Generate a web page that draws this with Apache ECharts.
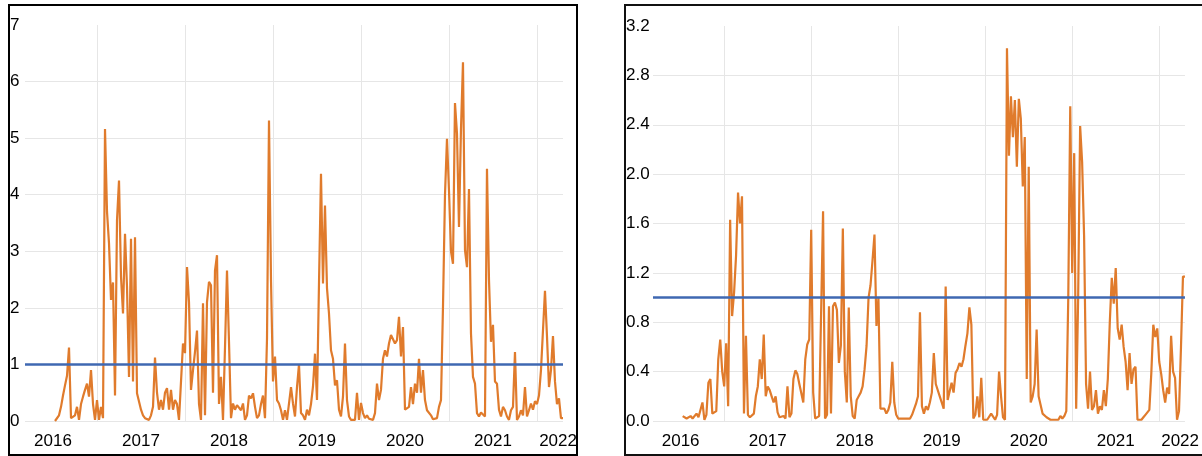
<!DOCTYPE html>
<html><head><meta charset="utf-8">
<script src="https://cdn.jsdelivr.net/npm/echarts@6/dist/echarts.min.js"></script>
<style>html,body{margin:0;padding:0;background:#fff;}#c{width:1202px;height:456px;}</style>
</head><body><div id="c"></div>
<script>
// Left panel series (sampled every 1/44 year)
const leftValues = [
0.0,0.03,0.1,0.25,0.45,0.63,0.8,1.3,0.05,0.02,
0.1,0.25,0.02,0.3,0.43,0.55,0.66,0.43,0.9,0.3,
0.02,0.37,0.02,0.25,0.05,5.16,3.7,3.14,2.14,2.45,
0.45,3.55,4.25,2.55,1.9,3.31,2.37,0.78,3.22,0.7,
3.25,0.49,0.49,0.2,0.1,0.05,0.02,0.02,0.1,0.25,
1.12,0.5,0.2,0.37,0.2,0.5,0.58,0.2,0.55,0.2,
0.37,0.3,0.02,0.05,1.37,1.2,2.72,2.1,0.55,0.9,
1.22,1.6,0.3,0.02,2.08,0.1,2.1,2.46,2.4,0.5,
2.66,2.93,0.3,0.78,0.02,1.3,2.66,1.4,0.05,0.31,
0.2,0.28,0.3,0.19,0.31,0.02,0.1,0.45,0.4,0.49,
0.25,0.05,0.1,0.3,0.45,0.05,1.45,5.31,2.5,0.7,
1.14,0.37,0.31,0.19,0.02,0.19,0.02,0.02,0.6,0.31,
0.08,0.6,1.0,0.14,0.1,0.02,0.2,0.1,0.3,0.61,
1.19,0.37,2.43,4.37,2.43,3.81,2.35,1.9,1.25,1.1,
0.63,0.72,0.2,0.08,0.43,1.37,0.37,0.08,0.02,0.05,
0.02,0.5,0.02,0.32,0.14,0.05,0.1,0.04,0.03,0.02,
0.14,0.66,0.37,0.55,1.1,1.25,1.14,1.37,1.52,1.49,
1.37,1.43,1.84,1.14,1.66,0.2,0.19,0.25,0.6,0.3,
0.66,0.5,1.1,0.5,0.9,0.37,0.19,0.2,0.1,0.03,
0.02,0.05,0.25,0.37,2.02,4.0,4.99,4.08,3.0,2.78,
5.62,5.08,3.43,5.16,6.34,3.02,2.72,4.1,1.55,0.78,
0.66,0.14,0.08,0.15,0.14,0.08,4.46,2.5,1.4,1.7,
0.7,0.66,0.2,0.08,0.25,0.19,0.08,0.02,0.19,0.25,
1.22,0.02,0.08,0.19,0.1,0.6,0.08,0.19,0.31,0.2,
0.35,0.3,0.45,0.9,1.6,2.3,1.5,0.6,0.9,1.5,
0.7,0.3,0.4,0.05,0.05
];
// Right panel series
const rightValues = [
0.04,0.05,0.02,0.03,0.04,0.02,0.02,0.06,0.03,0.02,
0.15,0.01,0.05,0.31,0.34,0.06,0.05,0.08,0.5,0.66,
0.4,0.28,0.63,0.12,1.63,0.85,1.04,1.34,1.85,1.6,
1.82,0.06,0.69,0.05,0.03,0.02,0.06,0.2,0.28,0.5,
0.34,0.7,0.2,0.28,0.25,0.2,0.15,0.2,0.07,0.03,
0.02,0.04,0.02,0.28,0.03,0.06,0.34,0.41,0.38,0.3,
0.3,0.15,0.5,0.62,0.66,1.55,0.23,0.02,0.02,0.04,
0.04,1.7,0.02,0.05,0.93,0.06,0.93,0.96,0.9,0.47,
0.61,1.56,0.4,0.15,0.92,0.2,0.04,0.02,0.17,0.2,
0.23,0.28,0.42,0.61,1.0,1.1,1.3,1.51,0.77,1.0,
0.1,0.09,0.1,0.06,0.09,0.15,0.48,0.15,0.05,0.02,
0.02,0.02,0.03,0.02,0.03,0.02,0.05,0.04,0.14,0.2,
0.88,0.12,0.06,0.12,0.09,0.15,0.23,0.55,0.3,0.3,
0.2,0.15,0.1,1.09,0.17,0.17,0.31,0.23,0.39,0.42,
0.47,0.44,0.5,0.61,0.71,0.92,0.78,0.02,0.05,0.2,
0.03,0.35,0.01,0.02,0.01,0.02,0.06,0.07,0.01,0.05,
0.4,0.2,0.03,0.01,3.02,2.15,2.63,2.3,2.6,2.06,
2.61,2.45,1.9,2.3,0.34,2.06,0.15,0.2,0.3,0.74,
0.2,0.2,0.06,0.05,0.03,0.02,0.01,0.02,0.01,0.02,
0.01,0.04,0.02,0.04,0.08,1.0,2.55,1.2,2.17,0.1,
1.0,2.39,2.1,1.5,0.3,0.1,0.4,0.09,0.12,0.25,
0.06,0.12,0.09,0.25,0.12,0.34,0.8,1.16,0.95,1.24,
0.75,0.66,0.78,0.6,0.48,0.25,0.55,0.3,0.42,0.44,
0.01,0.02,0.01,0.03,0.05,0.07,0.09,0.39,0.78,0.68,
0.75,0.48,0.38,0.25,0.15,0.27,0.22,0.69,0.4,0.35,
0.01,0.08,0.6,1.17,1.17
];
const firstSample = 2016.523;   // decimal year of first observation
const samplesPerYear = 44;
const xTickLabels = ['2016','2017','2018','2019','2020','2021','2022'];
const yearGridlines = [2017, 2018, 2019, 2020, 2021, 2022];
const threshold = 1;
const leftYMax = 7, leftYStep = 1;
const rightYMax = 3.2, rightYStep = 0.4;

const xMin = 2016.182, xMax = 2022.296;
const FONT = "'Liberation Sans',Arial,sans-serif";
const FS = 17;
const labelPositions = xTickLabels.map(l => Math.min(Number(l) + 0.5, xMax - 0.056));
function labelFor(v) {
  for (let i = 0; i < labelPositions.length; i++) if (Math.abs(labelPositions[i] - v) < 1e-6) return xTickLabels[i];
  return '';
}
function toPoints(vals) { return vals.map((v, i) => [firstSample + i / samplesPerYear, v]); }

function xAxisFor(g) {
  return {
    type: 'value', gridIndex: g, min: xMin, max: xMax,
    axisLine: { show: false },
    axisTick: { show: false, customValues: yearGridlines },
    splitLine: { show: true, lineStyle: { color: '#e6e6e6', width: 1 } },
    axisLabel: { customValues: labelPositions, formatter: labelFor, fontSize: FS, color: '#000', fontFamily: FONT, margin: 12 }
  };
}
function yAxisFor(g, max, step, margin, fmt) {
  return {
    type: 'value', gridIndex: g, min: 0, max: max, interval: step,
    axisLine: { show: false }, axisTick: { show: false },
    splitLine: { show: true, showMaxLine: false, lineStyle: { color: '#e6e6e6', width: 1 } },
    axisLabel: { align: 'left', margin: margin, fontSize: FS, color: '#000', fontFamily: FONT, formatter: fmt }
  };
}
const orange = '#E07B2C', blue = '#3F68B2';
const chart = echarts.init(document.getElementById('c'), null, { renderer: 'canvas' });
chart.setOption({
  animation: false,
  backgroundColor: '#fff',
  grid: [
    { left: 25, top: 25, width: 538, height: 396 },
    { left: 653, top: 26, width: 538, height: 395 }
  ],
  xAxis: [xAxisFor(0), xAxisFor(1)],
  yAxis: [
    yAxisFor(0, leftYMax, leftYStep, 15, v => String(v)),
    yAxisFor(1, rightYMax, rightYStep, 27, v => v.toFixed(1))
  ],
  series: [
    { type: 'line', xAxisIndex: 0, yAxisIndex: 0, data: toPoints(leftValues), showSymbol: false, symbol: 'none', lineStyle: { color: orange, width: 2.2 }, z: 2 },
    { type: 'line', xAxisIndex: 0, yAxisIndex: 0, data: [[xMin, threshold], [xMax, threshold]], showSymbol: false, symbol: 'none', lineStyle: { color: blue, width: 2.5 }, z: 3 },
    { type: 'line', xAxisIndex: 1, yAxisIndex: 1, data: toPoints(rightValues), showSymbol: false, symbol: 'none', lineStyle: { color: orange, width: 2.2 }, z: 2 },
    { type: 'line', xAxisIndex: 1, yAxisIndex: 1, data: [[xMin, threshold], [xMax, threshold]], showSymbol: false, symbol: 'none', lineStyle: { color: blue, width: 2.5 }, z: 3 }
  ],
  graphic: [
    { type: 'rect', silent: true, z: 100, shape: { x: 9, y: 5, width: 568, height: 450 }, style: { fill: 'none', stroke: '#000', lineWidth: 2 } },
    { type: 'rect', silent: true, z: 100, shape: { x: 625, y: 5, width: 600, height: 450 }, style: { fill: 'none', stroke: '#111', lineWidth: 2 } }
  ]
});
</script></body></html>
